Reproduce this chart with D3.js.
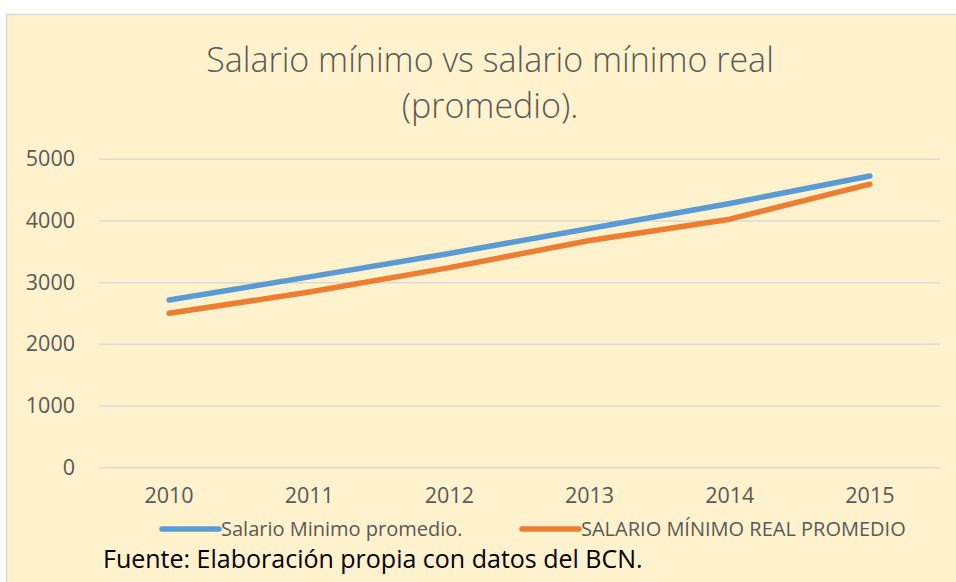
<!DOCTYPE html>
<html>
<head>
<meta charset="utf-8">
<script src="https://cdn.jsdelivr.net/npm/d3@7"></script>
<style>
  body { margin: 0; background: #fff; }
  text { font-family: "Open Sans", Lato, sans-serif; }
</style>
</head>
<body>
<div id="chart"></div>
<script>
// Data
var years = ["2010", "2011", "2012", "2013", "2014", "2015"];
var salarioMinimo = [2711, 3085, 3465, 3870, 4275, 4720];
var salarioReal = [2495, 2840, 3235, 3675, 4020, 4587];
var yTicks = [0, 1000, 2000, 3000, 4000, 5000];
var seriesNames = ["Salario Minimo promedio.", "SALARIO MÍNIMO REAL PROMEDIO"];
var seriesColors = ["#5B9BD5", "#ED7D31"];

var svgWidth = 956;
var svgHeight = 582;

var svg = d3.select("#chart")
  .append("svg")
  .attr("width", svgWidth)
  .attr("height", svgHeight);

// chart area background
svg.append("rect")
  .attr("x", 6.5)
  .attr("y", 14.5)
  .attr("width", 960)
  .attr("height", 600)
  .attr("fill", "#FFF2CC")
  .attr("stroke", "#D9D9D9")
  .attr("stroke-width", 1.5);

// title
var title = svg.append("text")
  .attr("text-anchor", "middle")
  .attr("fill", "#595959")
  .attr("font-size", "34px")
  .attr("font-weight", 300);
title.append("tspan").attr("x", 490).attr("y", 72).text("Salario mínimo vs salario mínimo real");
title.append("tspan").attr("x", 490).attr("y", 118).text("(promedio).");

var x = d3.scaleBand()
  .domain(years)
  .range([99, 940]);

var y = d3.scaleLinear()
  .domain([0, 5000])
  .range([467.3, 158.7]);

// gridlines + y labels
var yAxis = d3.axisLeft(y)
  .tickValues(yTicks)
  .tickFormat(d3.format("d"))
  .tickSize(-(940 - 99))
  .tickPadding(24);

var yg = svg.append("g")
  .attr("transform", "translate(99,0)")
  .call(yAxis);
yg.select(".domain").remove();
yg.selectAll(".tick line").attr("stroke", "#D9D9D9").attr("stroke-width", 1.5);
yg.selectAll(".tick text")
  .attr("fill", "#595959")
  .attr("font-size", "21.5px")
  .attr("font-family", "'Open Sans', sans-serif");

// x labels
var xAxis = d3.axisBottom(x).tickSize(0).tickPadding(20);
var xg = svg.append("g")
  .attr("transform", "translate(0,467.3)")
  .call(xAxis);
xg.select(".domain").remove();
xg.selectAll(".tick text")
  .attr("fill", "#595959")
  .attr("font-size", "21.5px")
  .attr("font-family", "'Open Sans', sans-serif");

// lines
var line = d3.line()
  .x(function(d, i) { return x(years[i]) + x.bandwidth() / 2; })
  .y(function(d) { return y(d); });

[salarioReal, salarioMinimo].forEach(function(series, k) {
  svg.append("path")
    .datum(series)
    .attr("d", line)
    .attr("fill", "none")
    .attr("stroke", k === 0 ? seriesColors[1] : seriesColors[0])
    .attr("stroke-width", 5.5)
    .attr("stroke-linecap", "round")
    .attr("stroke-linejoin", "round");
});

// legend
var legendX = [162, 522];
seriesNames.forEach(function(name, i) {
  svg.append("line")
    .attr("x1", legendX[i]).attr("x2", legendX[i] + 57)
    .attr("y1", 529).attr("y2", 529)
    .attr("stroke", seriesColors[i])
    .attr("stroke-width", 5.5)
    .attr("stroke-linecap", "round");
  svg.append("text")
    .attr("x", legendX[i] + 59)
    .attr("y", 535.5)
    .attr("fill", "#595959")
    .attr("font-size", "20px")
    .text(name);
});

// source note
svg.append("text")
  .attr("x", 103)
  .attr("y", 567.5)
  .attr("fill", "#000")
  .attr("font-size", "25px")
  .text("Fuente: Elaboración propia con datos del BCN.");
</script>
</body>
</html>
